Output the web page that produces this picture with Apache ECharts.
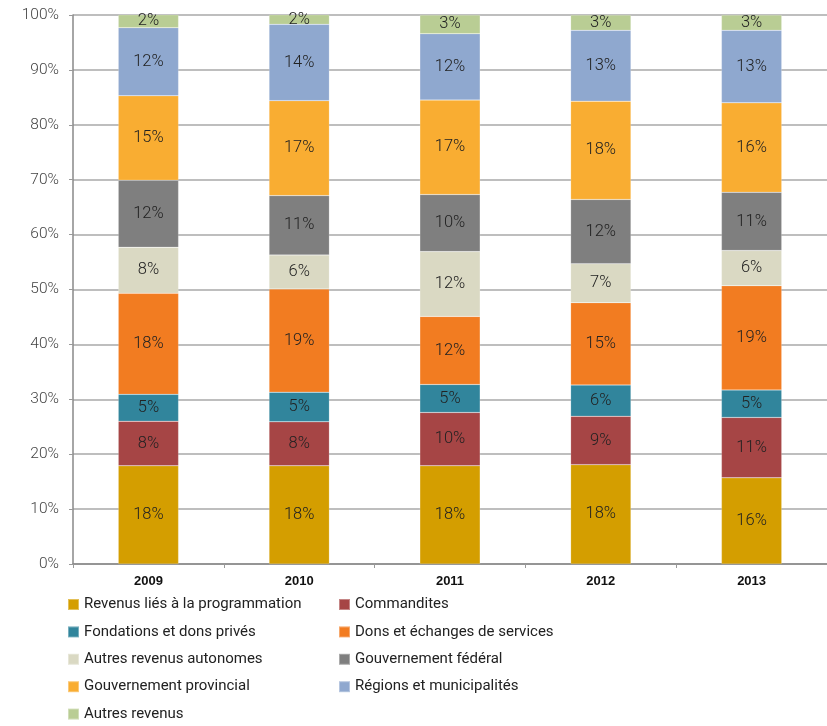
<!DOCTYPE html>
<html>
<head>
<meta charset="utf-8">
<script src="https://cdn.jsdelivr.net/npm/echarts@6/dist/echarts.min.js"></script>
<style>
  html, body { margin: 0; padding: 0; background: #ffffff; }
  #chart { width: 827px; height: 726px; }
</style>
</head>
<body>
<div id="chart"></div>
<script>
// Revenue breakdown by source, share of total (%), 2009–2013
const years = ['2009', '2010', '2011', '2012', '2013'];

const revenusProgrammation = [17.9, 17.9, 17.9, 18.1, 15.7];
const commandites          = [8.1, 8.0, 9.7, 8.8, 11.0];
const fondationsDons       = [4.9, 5.4, 5.1, 5.7, 5.0];
const donsEchanges         = [18.4, 18.8, 12.4, 15.0, 19.0];
const autresAutonomes      = [8.4, 6.2, 11.8, 7.1, 6.4];
const gouvFederal          = [12.2, 10.8, 10.4, 11.7, 10.6];
const gouvProvincial       = [15.4, 17.3, 17.2, 17.9, 16.3];
const regionsMunicipalites = [12.4, 13.9, 12.1, 12.9, 13.2];
const autresRevenus        = [2.4, 1.8, 3.4, 2.8, 2.8];

const yTickLabels = ['0%', '10%', '20%', '30%', '40%', '50%', '60%', '70%', '80%', '90%', '100%'];

const seriesDefs = [
  { name: 'Revenus liés à la programmation', data: revenusProgrammation, color: '#D49E00' },
  { name: 'Commandites', data: commandites, color: '#A64545' },
  { name: 'Fondations et dons privés', data: fondationsDons, color: '#31859C' },
  { name: 'Dons et échanges de services', data: donsEchanges, color: '#F27C21' },
  { name: 'Autres revenus autonomes', data: autresAutonomes, color: '#DAD9C3' },
  { name: 'Gouvernement fédéral', data: gouvFederal, color: '#7F7F7F' },
  { name: 'Gouvernement provincial', data: gouvProvincial, color: '#F9AD32' },
  { name: 'Régions et municipalités', data: regionsMunicipalites, color: '#8FA8CF' },
  { name: 'Autres revenus', data: autresRevenus, color: '#B9CD94' }
];

const FONT = 'Roboto';

const chart = echarts.init(document.getElementById('chart'), null, { renderer: 'canvas' });

const legendText = { fontFamily: FONT, fontSize: 15, lineHeight: 17, color: '#222' };

chart.setOption({
  animation: false,
  backgroundColor: '#ffffff',
  grid: { left: 73, top: 15, width: 754, height: 549, containLabel: false },
  xAxis: {
    type: 'category',
    data: years,
    axisLine: { show: true, lineStyle: { color: '#888', width: 1.5 } },
    axisTick: { show: true, alignWithLabel: false, length: 4, lineStyle: { color: '#999' } },
    axisLabel: { fontFamily: 'Liberation Sans', fontWeight: 'bold', fontSize: 13, color: '#111', margin: 11 }
  },
  yAxis: {
    type: 'value',
    min: 0,
    max: 100,
    interval: 10,
    axisLine: { show: true, lineStyle: { color: '#888', width: 1.5 } },
    axisTick: { show: true, length: 4, lineStyle: { color: '#999' } },
    axisLabel: {
      fontFamily: FONT, fontWeight: 300, fontSize: 15.5, color: '#444', margin: 14,
      formatter: (v) => yTickLabels[Math.round(v / 10)]
    },
    splitLine: { show: true, lineStyle: { color: '#A8A8A8', width: 1.5 } }
  },
  legend: [
    {
      data: seriesDefs.filter((d, i) => i % 2 === 0).map(d => d.name),
      orient: 'vertical', left: 67, top: 596,
      icon: 'rect', itemWidth: 11, itemHeight: 11, itemGap: 10.4,
      textStyle: legendText, selectedMode: false, padding: 0
    },
    {
      data: seriesDefs.filter((d, i) => i % 2 === 1).map(d => d.name),
      orient: 'vertical', left: 338, top: 596,
      icon: 'rect', itemWidth: 11, itemHeight: 11, itemGap: 10.4,
      textStyle: legendText, selectedMode: false, padding: 0
    }
  ],
  series: seriesDefs.map(d => ({
    name: d.name,
    type: 'bar',
    stack: 'total',
    barWidth: '40%',
    data: d.data,
    itemStyle: { color: d.color, borderColor: 'rgba(255,255,255,0.35)', borderWidth: 0.5 },
    label: {
      show: true,
      position: 'inside',
      fontFamily: FONT, fontWeight: 300, fontSize: 16.5, color: '#222',
      formatter: (p) => Math.round(p.value) + '%'
    }
  }))
});
</script>
</body>
</html>
